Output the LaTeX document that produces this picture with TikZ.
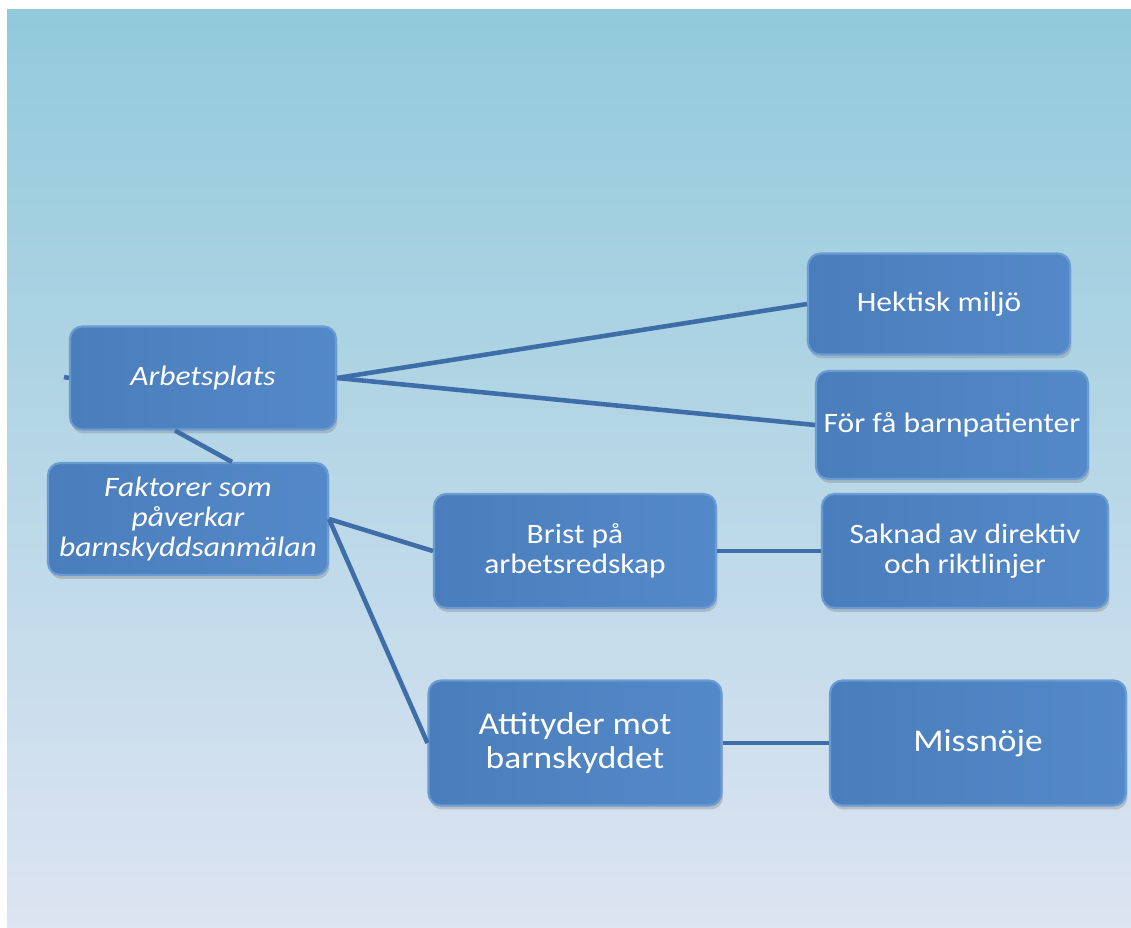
\documentclass[tikz,border=0pt]{standalone}
\usepackage{fontspec}
\setmainfont{Carlito}[FakeStretch=1.12]
\usepackage{xcolor}
\usetikzlibrary{shadows,calc,positioning}
\definecolor{bakgrundtopp}{HTML}{91CADB}
\definecolor{bakgrundmitt}{HTML}{B2CEE6}
\definecolor{bakgrundbotten}{HTML}{DDE4F2}
\definecolor{rutafarg}{HTML}{4A7DBB}
\definecolor{rutaljus}{HTML}{5489C9}
\definecolor{rutakant}{HTML}{6B9BD3}
\definecolor{linjefarg}{HTML}{3F6DA8}
\tikzset{
  ruta/.style={rectangle,rounded corners=7pt,left color=rutafarg,right color=rutaljus,
    draw=rutakant,line width=1.2pt,text=white,align=center,inner sep=0pt,
    font=\fontsize{16}{16.8}\selectfont,
    drop shadow={opacity=0.35,shadow xshift=0.03cm,shadow yshift=-0.08cm}},
  kursiv/.style={font=\fontsize{16}{16.8}\selectfont\itshape},
  stor/.style={font=\fontsize{18}{19}\selectfont},
  linje/.style={draw=linjefarg,line width=2.6pt}
}
\begin{document}
\begin{tikzpicture}[x=0.02cm,y=-0.02cm]
\useasboundingbox (0,0) rectangle (1131,928);
\shade[top color=bakgrundtopp,middle color=bakgrundmitt,bottom color=bakgrundbotten] (7,10) rectangle (1131,928);

\node[ruta,kursiv,minimum width=5.32cm,minimum height=2.06cm] (arb) at (203,378) {Arbetsplats};
\node[ruta,kursiv,minimum width=5.6cm,minimum height=2.24cm] (fak) at (188,519) {Faktorer som\\påverkar\\barnskyddsanmälan};
\node[ruta,minimum width=5.24cm,minimum height=2.02cm] (hek) at (939,304) {Hektisk miljö};
\node[ruta,minimum width=5.44cm,minimum height=2.16cm] (for) at (952,425) {För få barnpatienter};
\node[ruta,minimum width=5.64cm,minimum height=2.28cm] (bri) at (575,551) {Brist på\\arbetsredskap};
\node[ruta,minimum width=5.72cm,minimum height=2.28cm] (sak) at (965,551) {Saknad av direktiv\\och riktlinjer};
\node[ruta,stor,minimum width=5.86cm,minimum height=2.5cm] (att) at (575,743) {Attityder mot\\barnskyddet};
\node[ruta,stor,minimum width=5.92cm,minimum height=2.5cm] (mis) at (978,743) {Missnöje};

\coordinate (stump) at (64,377);
\draw[linje] (stump) -- (arb.west);
\draw[linje] (arb.east) -- (hek.west);
\draw[linje] (arb.east) -- (for.west);
\draw[linje] ([xshift=-0.56cm]arb.south) -- ([xshift=0.88cm]fak.north);
\draw[linje] (fak.east) -- (bri.west);
\draw[linje] (fak.east) -- (att.west);
\draw[linje] (bri.east) -- (sak.west);
\draw[linje] (att.east) -- (mis.west);
\end{tikzpicture}
\end{document}
